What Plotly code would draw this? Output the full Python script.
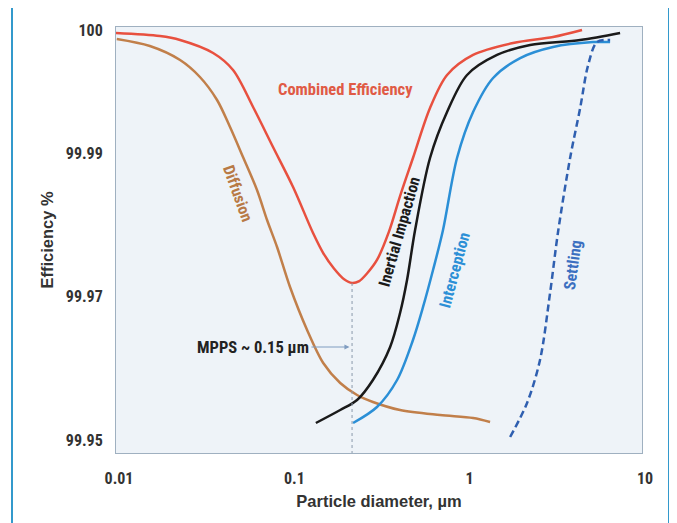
import numpy as np
import plotly.graph_objects as go

# ---- data (particle diameter in µm, efficiency in %) ----
comb_d = [0.01, 0.0178, 0.0232, 0.0358, 0.0465, 0.0605, 0.0786, 0.1023, 0.133, 0.152, 0.175, 0.200,
          0.222, 0.244, 0.270, 0.308, 0.360, 0.417, 0.494, 0.618, 0.773, 1.088, 1.84, 3.11, 4.55]
comb_e = [99.99976, 99.99951, 99.99919, 99.99813, 99.99675, 99.99374, 99.99049, 99.98526, 99.97885,
          99.97606, 99.97390, 99.97240, 99.97188, 99.97215, 99.97320, 99.97509, 99.97900, 99.98400,
          99.98930, 99.99366, 99.99634, 99.99797, 99.99894, 99.99943, 100.0]

diff_d = [0.0101, 0.0156, 0.0232, 0.0301, 0.0377, 0.0447, 0.0530, 0.0637, 0.0727, 0.0829, 0.0983,
          0.123, 0.152, 0.190, 0.237, 0.292, 0.417, 0.705, 1.088, 1.36]
diff_e = [99.99927, 99.99870, 99.99756, 99.99618, 99.99431, 99.99211, 99.98944, 99.98484, 99.98066,
          99.97690, 99.97132, 99.96533, 99.96073, 99.95794, 99.95627, 99.95530, 99.95418, 99.95348,
          99.95307, 99.95251]

inert_d = [0.138, 0.190, 0.237, 0.292, 0.366, 0.417, 0.457, 0.508, 0.618, 0.773, 1.005, 1.49, 2.30, 4.44, 7.50]
inert_e = [99.95237, 99.95418, 99.95557, 99.95836, 99.96296, 99.96770, 99.97230, 99.97927, 99.98930,
           99.99333, 99.99634, 99.99797, 99.99878, 99.99919, 99.99976]

inter_d = [0.225, 0.308, 0.401, 0.494, 0.564, 0.643, 0.733, 0.881, 1.088, 1.415, 2.02, 3.11, 5.26, 6.58]
inter_e = [99.95237, 99.95460, 99.95836, 99.96394, 99.96854, 99.97369, 99.97927, 99.98930, 99.99333,
           99.99610, 99.99772, 99.99862, 99.99902, 99.99902]

settl_d = [1.77, 2.21, 2.62, 2.99, 3.32, 3.89, 4.44, 4.93, 5.54, 6.58]
settl_e = [99.95042, 99.95516, 99.96115, 99.97049, 99.97899, 99.98930, 99.99366, 99.99715, 99.99902, 99.99919]

mpps_d = 0.222
mpps_e = 99.97188

x_ticks = [0.01, 0.1, 1, 10]
x_tick_text = ["0.01", "0.1", "1", "10"]
y_ticks = [99.95, 99.97, 99.99, 100]
y_tick_text = ["99.95", "99.97", "99.99", "100"]
y_tick_pos = [0.0, 1.0, 2.0, 2.857]   # non-uniform printed scale


def ypos(e):
    return np.interp(np.asarray(e, dtype=float), y_ticks, y_tick_pos)


NARROW = "Roboto Condensed, Liberation Sans Narrow, Arial Narrow, Liberation Sans, Arial, sans-serif"
WIDE = "Liberation Sans, Arial, Helvetica, sans-serif"
RED = "#e8503f"
BROWN = "#c17f4a"
BLACK = "#1a1a1a"
BLUE = "#2b8fd6"
DBLUE = "#2f5fb0"

fig = go.Figure()

series = [
    (comb_d, comb_e, RED, "solid"),
    (diff_d, diff_e, BROWN, "solid"),
    (inert_d, inert_e, BLACK, "solid"),
    (inter_d, inter_e, BLUE, "solid"),
    (settl_d, settl_e, DBLUE, "7px,4px"),
]
for d, e, c, dash in series:
    fig.add_trace(go.Scatter(x=d, y=ypos(e), mode="lines",
                             line=dict(color=c, width=2.5, dash=dash, shape="spline", smoothing=0.9),
                             showlegend=False, hoverinfo="skip"))

# MPPS dotted marker line
y_bottom = -0.0906
fig.add_trace(go.Scatter(x=[mpps_d, mpps_d], y=[float(ypos(mpps_e)), y_bottom], mode="lines",
                         line=dict(color="#8a9aab", width=1, dash="dot"),
                         showlegend=False, hoverinfo="skip"))

ann = []
def label(text, xd, e, color, angle=0, size=16):
    ann.append(dict(x=np.log10(xd), y=float(ypos(e)), xref="x", yref="y", text=f"<b>{text}</b>",
                    showarrow=False, textangle=angle,
                    font=dict(family=NARROW, size=size, color=color)))

label("Combined Efficiency", 0.2024, 99.9952, "#e05a45", size=16.5)
label("Diffusion", 0.0497, 99.9844, "#b87a46", angle=70)
label("Inertial Impaction", 0.412, 99.9791, BLACK, angle=-74)
label("Interception", 0.859, 99.9737, BLUE, angle=-75)
label("Settling", 4.05, 99.9744, "#3b6fc0", angle=-82)

ann.append(dict(x=np.log10(mpps_d) - 0.015, y=float(ypos(99.96296)), xref="x", yref="y",
                text="<b>MPPS ~ 0.15 µm</b>", showarrow=True, arrowhead=2, arrowsize=1,
                arrowwidth=1, arrowcolor="#7f9cc0", axref="pixel", ayref="pixel", ax=-38, ay=0,
                xanchor="right", font=dict(family=NARROW, size=16.5, color="#222222")))

# page body has an 8px margin, so the figure is 8px smaller and margins shifted
fig.update_layout(
    width=669, height=515,
    margin=dict(l=108, r=35, t=19, b=70),
    paper_bgcolor="white",
    plot_bgcolor="#eef3f8",
    font=dict(family=NARROW, color="#333333"),
    annotations=ann,
    shapes=[dict(type="rect", xref="paper", yref="paper",
                 x0=(12 - 116) / 526, x1=(669 - 116) / 526,
                 y0=(453 - 540) / 426, y1=(453 - 1) / 426,
                 line=dict(color="#3399cc", width=2), fillcolor="rgba(0,0,0,0)", layer="below")],
)
fig.update_xaxes(type="log", range=[-2, 1], tickvals=x_ticks, ticktext=[f"<b>{t}</b>" for t in x_tick_text],
                 showgrid=False, zeroline=False, showline=True, linecolor="#9fb0c0", linewidth=1, mirror=True,
                 ticks="outside", ticklen=11, tickcolor="rgba(0,0,0,0)", ticklabelshift=3,
                 tickfont=dict(family=NARROW, size=16, color="#333333"),
                 title=dict(text="<b>Particle diameter, µm</b>", standoff=8,
                            font=dict(family=WIDE, size=16.5, color="#333333")))
fig.update_yaxes(range=[y_bottom, 2.878], tickvals=y_tick_pos, ticktext=[f"<b>{t}</b>" for t in y_tick_text],
                 showgrid=False, zeroline=False, showline=True, linecolor="#9fb0c0", linewidth=1, mirror=True,
                 ticks="outside", ticklen=9, tickcolor="rgba(0,0,0,0)",
                 tickfont=dict(family=NARROW, size=16, color="#333333"),
                 title=dict(text="<b>Efficiency %</b>", standoff=8,
                            font=dict(family=WIDE, size=16.5, color="#333333")))

fig.write_html("out.html")
